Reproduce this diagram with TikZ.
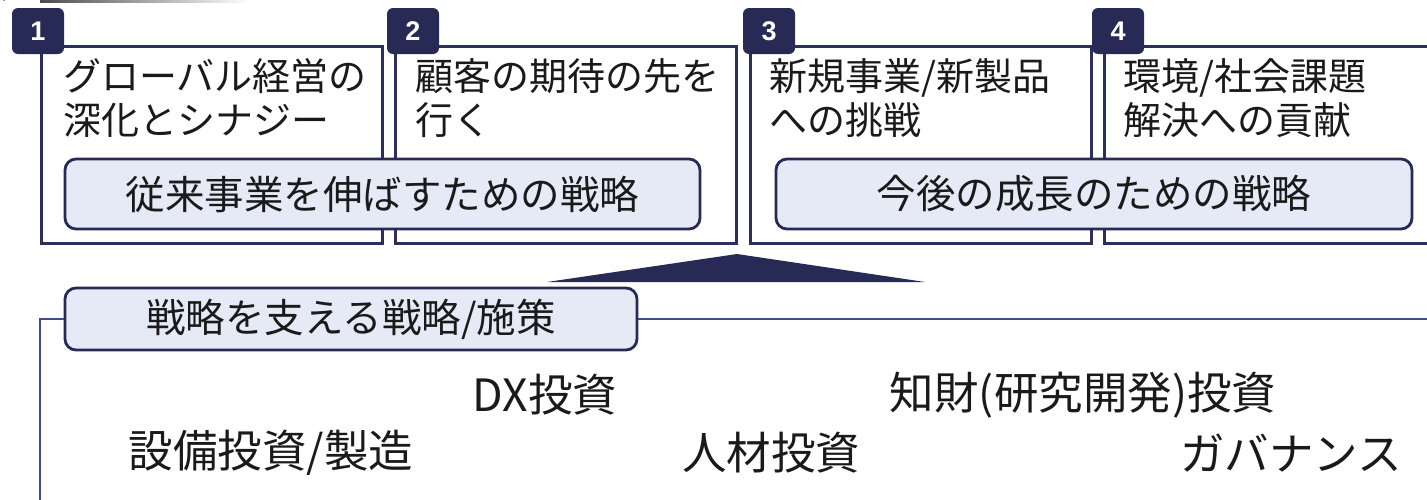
\documentclass[tikz,border=0pt]{standalone}
\usepackage{fontspec}
\setmainfont{Noto Sans CJK JP}
\newfontfamily\numfont{Liberation Sans}
\definecolor{navy}{HTML}{262A55}
\definecolor{boxline}{HTML}{2B2F5C}
\definecolor{frameline}{HTML}{3A4F86}
\definecolor{lblfill}{HTML}{E6EAF6}
\definecolor{ink}{HTML}{1A1A1A}
\tikzset{
  card/.style={draw=boxline, line width=2.8pt, fill=white, inner sep=0pt, anchor=north west},
  badge/.style={fill=navy, rounded corners=6pt, minimum width=52pt, minimum height=46pt, inner sep=0pt, text=white, font=\numfont\bfseries\fontsize{27}{27}\selectfont},
  lbl/.style={draw=navy, line width=2.8pt, fill=lblfill, rounded corners=11pt, inner sep=0pt, text=ink, font=\fontsize{39.5}{39.5}\selectfont},
  title/.style={anchor=base west, inner sep=0pt, text=ink, font=\fontsize{38}{38}\selectfont},
  item/.style={inner sep=0pt, text=ink, font=\fontsize{44.5}{44.5}\selectfont},
  frame/.style={draw=frameline, line width=2.8pt},
}
\begin{document}
\begin{tikzpicture}[x=1pt,y=-1pt]
\useasboundingbox (0,0) rectangle (1427,499);
% cropped remnants at top-left
\shade[left color=black!70, right color=white] (40,0) rectangle (250,2);
\draw[navy, line width=1.5pt] (5,0) arc[start angle=60, end angle=100, radius=14pt];
% cards
\node[card, minimum width=341pt, minimum height=197pt] (c1) at (40,45) {};
\node[card, minimum width=341pt, minimum height=197pt] (c2) at (394,45) {};
\node[card, minimum width=341pt, minimum height=197pt] (c3) at (749,45) {};
\node[card, minimum width=360pt, minimum height=197pt] (c4) at (1103,45) {};
% badges
\node[badge] (b1) at (38,31) {1};
\node[badge] (b2) at (413,31) {2};
\node[badge] (b3) at (769,31) {3};
\node[badge] (b4) at (1118,31) {4};
% titles
\node[title] (t1a) at (63,90) {グローバル経営の};
\node[title] (t1b) at (63,134) {深化とシナジー};
\node[title] (t2a) at (415,90) {顧客の期待の先を};
\node[title] (t2b) at (415,134) {行く};
\node[title] (t3a) at (769,90) {新規事業/新製品};
\node[title] (t3b) at (769,134) {への挑戦};
\node[title] (t4a) at (1123,90) {環境/社会課題};
\node[title] (t4b) at (1123,134) {解決への貢献};
% strategy labels
\node[lbl, minimum width=635pt, minimum height=70pt] (l1) at (382.5,194) {従来事業を伸ばすための戦略};
\node[lbl, minimum width=636pt, minimum height=70pt] (l2) at (1094,194) {今後の成長のための戦略};
% triangle
\fill[navy] (547,282) -- (737,254) -- (925,282) -- cycle;
% bottom frame
\node[lbl, minimum width=572pt, minimum height=62pt] (l3) at (351,319) {戦略を支える戦略/施策};
\coordinate (fl) at (40,505);
\coordinate (fr) at (1435,319);
\draw[frame] (fl) |- (l3.west);
\draw[frame] (l3.east) -- (fr);
% items
\node[item] (i1) at (545,395) {DX投資};
\node[item] (i2) at (1083,395) {知財(研究開発)投資};
\node[item] (i3) at (271,453) {設備投資/製造};
\node[item] (i4) at (771,453) {人材投資};
\node[item] (i5) at (1291,453) {ガバナンス};
\end{tikzpicture}
\end{document}
